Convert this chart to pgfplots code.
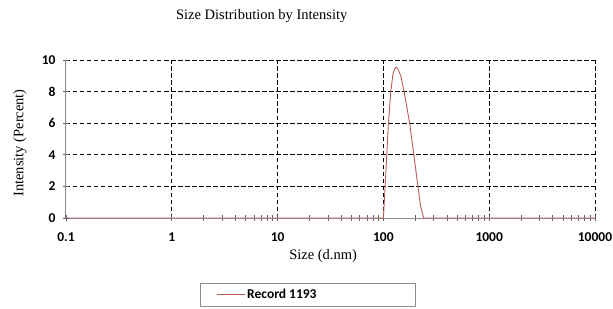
\documentclass[border=0pt]{standalone}
\usepackage{pgfplots}
\pgfplotsset{compat=1.18}
\usepackage{fontspec}
\setmainfont{Liberation Serif}
\newfontfamily\tickfont{Carlito}
\definecolor{rec}{RGB}{188,88,90}
\definecolor{axgray}{RGB}{140,140,140}
\definecolor{tkgray}{RGB}{95,95,95}
\begin{document}
\begin{tikzpicture}
\useasboundingbox (0,0) rectangle (613pt,308pt);
\begin{axis}[
  at={(66pt,90pt)}, anchor=south west,
  scale only axis, width=529pt, height=158pt,
  xmode=log, xmin=0.1, xmax=10000, ymin=0, ymax=10,
  axis x line=bottom, axis y line=left,
  axis line style={axgray, line width=1pt, -},
  xtick={1,10,100,1000,10000},
  xticklabels={1,10,100,1000,10000},
  extra x ticks={0.1}, extra x tick labels={0.1},
  extra x tick style={grid=none},
  ytick={2,4,6,8,10},
  extra y ticks={0}, extra y tick labels={0},
  extra y tick style={grid=none},
  xmajorgrids, ymajorgrids, xminorgrids=false,
  grid style={black, line width=1pt, dash pattern=on 4.5pt off 2.5pt},
  tick align=center, major tick length=6pt, minor tick length=6pt,
  tick style={tkgray, line width=0.9pt},
  /pgf/number format/assume math mode=true,
  ticklabel style={font=\tickfont\bfseries\fontsize{13.5}{14}\selectfont},
  xticklabel style={yshift=-8pt},
  yticklabel style={xshift=-4pt},
  title={Size Distribution by Intensity},
  title style={font=\fontsize{14.5}{16}\selectfont, at={(axis description cs:0.37,1.24)}, anchor=center},
  xlabel={Size (d.nm)},
  xlabel style={font=\fontsize{14.5}{16}\selectfont, at={(axis description cs:0.486,-0.24)}, anchor=center},
  ylabel={Intensity (Percent)},
  ylabel style={font=\fontsize{14.5}{16}\selectfont, at={(axis description cs:-0.087,0.475)}, anchor=center, rotate=0},
  legend style={at={(axis description cs:0.253,-0.411)}, anchor=north west, draw=axgray, line width=0.8pt, inner xsep=16pt, inner ysep=4pt, font=\tickfont\bfseries\fontsize{13.5}{14}\selectfont},
  legend cell align=left,
  legend image code/.code={\draw[#1, line width=1pt] (13pt,0pt) -- (41pt,0pt);},
]
\addplot[rec, line width=0.9pt] coordinates {
(0.1,0) (100,0) (103.8,2) (107.6,4) (111.5,6) (117.5,8) (123,9.1) (128,9.45) (132,9.55) (137,9.45) (146,9.0) (157,8) (177,6) (194,4) (212,2) (224,0.8) (240,0) (10000,0)
};
\addlegendentry{\makebox[150pt][l]{Record 1193}}
\end{axis}
\end{tikzpicture}
\end{document}
